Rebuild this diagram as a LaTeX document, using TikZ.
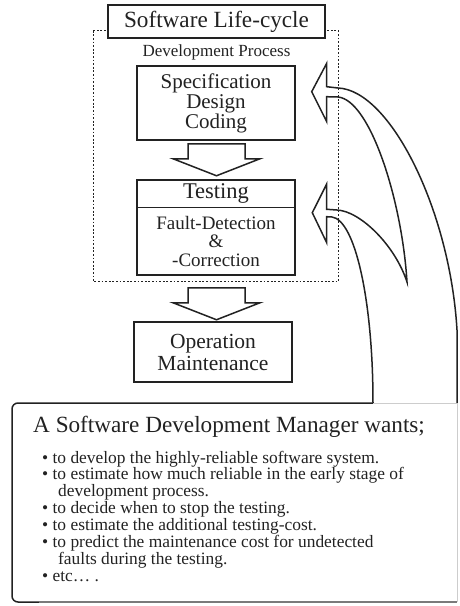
\documentclass[tikz,border=0pt]{standalone}
\usepackage{fontspec}
\setmainfont{Liberation Serif}
\usetikzlibrary{calc}

\definecolor{ink}{RGB}{34,34,34}
\definecolor{faint}{RGB}{205,205,205}

\tikzset{
  inkline/.style={draw=ink, line width=1.5pt, line join=miter},
  box/.style={inkline, fill=white, inner sep=0pt, text=ink, align=center},
  boxtext/.style={inner sep=0pt, text=ink, align=center},
  listline/.style={anchor=base west, inner sep=0pt, text=ink,
                   font=\fontsize{17.4}{17}\selectfont},
  pics/downarrow/.style={code={
    \draw[inkline, fill=white] (-28.5,0) -- (28.5,0) -- (28.5,15) -- (43.5,15)
      -- (0,32) -- (-43.5,15) -- (-28.5,15) -- cycle;}}
}

\begin{document}
\begin{tikzpicture}[x=1pt,y=-1pt]
\useasboundingbox (0,0) rectangle (459,606);

% development process frame (dotted)
\draw[ink, line width=1.5pt, dash pattern=on 1.8pt off 1.8pt]
  (93.3,30.7) rectangle (338.3,281.5);

% life-cycle title
\node[box, minimum width=217pt, minimum height=33pt,
      font=\fontsize{23.2}{26}\selectfont] (title) at (216.5,21.5) {Software Life-cycle};

\node[boxtext, font=\fontsize{17}{19}\selectfont] (devproc) at (216.5,52) {Development Process};

% phases
\node[box, minimum width=158pt, minimum height=74pt,
      font=\fontsize{21}{20}\selectfont] (spec) at (216,103) {Specification\\Design\\Coding};

\node[box, minimum width=158pt, minimum height=95pt] (test) at (216,227.5) {};
\draw[inkline] ($(test.north west)+(0,28)$) -- ($(test.north east)+(0,28)$);
\node[boxtext, font=\fontsize{22.5}{24}\selectfont] (testhead) at ($(test.north)+(0,14)$) {Testing};
\node[boxtext, font=\fontsize{19}{18.5}\selectfont] (testbody) at ($(test.north)+(0,62)$)
  {Fault-Detection\\\&\\-Correction};

\node[box, minimum width=158pt, minimum height=60pt,
      font=\fontsize{21.5}{22}\selectfont] (oper) at (213,352) {Operation\\Maintenance};

% flow between phases
\pic at ($(spec.south)+(0.5,3)$) {downarrow};
\pic at ($(test.south)+(0.5,12)$) {downarrow};

% branching feedback arrow rising from the manager's box
\draw[inkline] (457,403) -- (457,330)
  .. controls (450,210) and (390,90) .. (338,88)
  -- (326.7,86.7) -- (326.7,63.3) -- (311.7,91.7) -- (326.7,121.7) -- (326.7,96.7)
  -- (338,97)
  .. controls (370,100) and (402,200) .. (407,282)
  .. controls (395,245) and (360,211) .. (337,210)
  -- (326.7,209.3) -- (326.7,184) -- (312.3,212.7) -- (326.7,242.7) -- (326.7,216.7)
  -- (332,217)
  .. controls (355,220) and (373,300) .. (373,403);

% manager's box
\draw[inkline, rounded corners=6pt] (373,403) -- (12,403) -- (12,602) -- (40,602);
\draw[draw=ink!60, line width=1.2pt] (39,602) -- (457,602);
\draw[draw=faint, line width=1pt] (457,602) -- (457,403) -- (373,403);

\node[anchor=base west, inner sep=0pt, text=ink, font=\fontsize{23.2}{26}\selectfont]
  (wants) at (33,432) {A Software Development Manager wants;};

\foreach \n/\x/\y/\t in {
  1/42/463/{\textbullet\ to develop the highly-reliable software system.},
  2/42/479.9/{\textbullet\ to estimate how much reliable in the early stage of},
  3/58/496.8/{development process.},
  4/42/513.7/{\textbullet\ to decide when to stop the testing.},
  5/42/530.6/{\textbullet\ to estimate the additional testing-cost.},
  6/42/547.5/{\textbullet\ to predict the maintenance cost for undetected},
  7/58/564.4/{faults during the testing.},
  8/42/581.3/{\textbullet\ etc\ldots\ .}}
  \node[listline] (item\n) at (\x,\y) {\t};
\end{tikzpicture}
\end{document}
